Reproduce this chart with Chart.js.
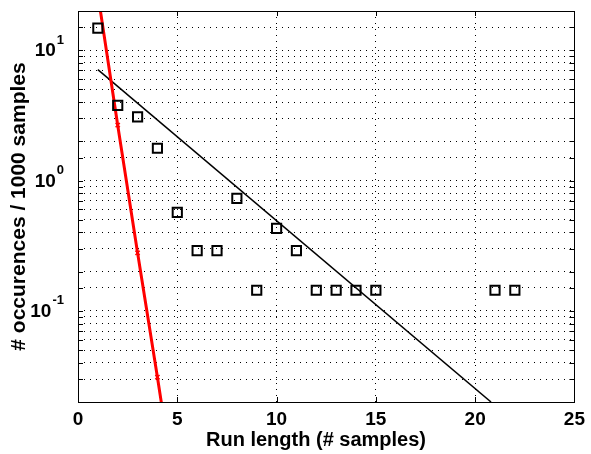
<!DOCTYPE html>
<html>
<head>
<meta charset="utf-8">
<script src="https://cdn.jsdelivr.net/npm/chart.js@4.4.1/dist/chart.umd.min.js"></script>
<style>
  html, body { margin: 0; padding: 0; background: #fff; }
  #wrap { width: 591px; height: 454px; }
</style>
</head>
<body>
<div id="wrap"><canvas id="chart" width="591" height="454"></canvas></div>
<script>
// measured run lengths and occurrences per 1000 samples
const runLengths = [1, 2, 3, 4, 5, 6, 7, 8, 9, 10, 11, 12, 13, 14, 15, 21, 22];
const occurrences = [14.8, 3.78, 3.08, 1.77, 0.57, 0.29, 0.29, 0.73, 0.144, 0.43, 0.29, 0.144, 0.144, 0.144, 0.144, 0.144, 0.144];

// fitted exponential (black) - endpoints
const fitX = [1, 20.8];
const fitY = [7.1, 0.02];

// steep model (red)
const modelX = [1, 2, 3, 4, 5];
const modelY = [27, 2.66, 0.279, 0.031, 0.0032];

const xTicks = [0, 5, 10, 15, 20, 25];
const yDecades = [0.1, 1, 10];
const yExp = ['-1', '0', '1'];
const xTitle = 'Run length (# samples)';
const yTitle = '# occurences / 1000 samples';

const toPts = (xs, ys) => xs.map((x, i) => ({ x: x, y: ys[i] }));

const FONT = '"Liberation Sans", Arial, sans-serif';

// MATLAB-ish frame, inward ticks, 10^n labels and x title
const framePlugin = {
    id: 'frame',
    afterDraw(chart) {
        const ctx = chart.ctx;
        const a = chart.chartArea;
        const xs = chart.scales.x;
        const ys = chart.scales.y;
        ctx.save();
        ctx.strokeStyle = '#000';
        ctx.lineWidth = 1;
        ctx.beginPath();
        xTicks.forEach(v => {
            const px = Math.round(xs.getPixelForValue(v)) + 0.5;
            ctx.moveTo(px, a.bottom); ctx.lineTo(px, a.bottom - 5);
            ctx.moveTo(px, a.top); ctx.lineTo(px, a.top + 5);
        });
        ys.ticks.forEach(t => {
            const py = Math.round(ys.getPixelForValue(t.value)) + 0.5;
            ctx.moveTo(a.left, py); ctx.lineTo(a.left + 5, py);
            ctx.moveTo(a.right, py); ctx.lineTo(a.right - 5, py);
        });
        ctx.stroke();
        ctx.strokeRect(Math.round(a.left) + 0.5, Math.round(a.top) + 0.5,
            Math.round(a.right - a.left), Math.round(a.bottom - a.top));

        // y labels as 10 with superscript
        ctx.fillStyle = '#000';
        ctx.textBaseline = 'middle';
        yDecades.forEach((v, i) => {
            const py = ys.getPixelForValue(v);
            ctx.font = 'bold 13px ' + FONT;
            const ew = ctx.measureText(yExp[i]).width;
            ctx.textAlign = 'right';
            ctx.fillText(yExp[i], a.left - 14, py - 10);
            ctx.font = 'bold 19px ' + FONT;
            ctx.fillText('10', a.left - 15 - ew, py + 1);
        });

        // x axis title
        ctx.font = 'bold 20px ' + FONT;
        ctx.textAlign = 'center';
        ctx.fillText(xTitle, 316, 440);
        ctx.restore();
    }
};

new Chart(document.getElementById('chart'), {
    type: 'scatter',
    data: {
        datasets: [
            {
                label: 'model',
                data: toPts(modelX, modelY),
                showLine: true,
                borderColor: '#ff0000',
                backgroundColor: '#ff0000',
                borderWidth: 3,
                pointStyle: 'crossRot',
                pointRadius: 3,
                pointBorderWidth: 1.5,
                order: 1
            },
            {
                label: 'fit',
                data: toPts(fitX, fitY),
                showLine: true,
                borderColor: '#000',
                borderWidth: 1.5,
                pointRadius: 0,
                order: 2
            },
            {
                label: 'data',
                data: toPts(runLengths, occurrences),
                showLine: false,
                pointStyle: 'rect',
                pointRadius: 6.5,
                pointBorderWidth: 2,
                borderColor: '#000',
                backgroundColor: 'rgba(0,0,0,0)',
                order: 0
            }
        ]
    },
    plugins: [framePlugin],
    options: {
        responsive: false,
        animation: false,
        devicePixelRatio: 1,
        layout: { padding: { top: 11, right: 14, left: 0, bottom: 0 } },
        plugins: {
            legend: { display: false },
            tooltip: { enabled: false }
        },
        scales: {
            x: {
                type: 'linear',
                min: 0,
                max: 25,
                afterFit: (s) => { s.height = 52; },
                ticks: {
                    stepSize: 5,
                    color: '#000',
                    padding: 6,
                    font: { family: FONT, size: 19, weight: 'bold' }
                },
                grid: {
                    color: '#000',
                    lineWidth: 1,
                    drawTicks: false
                },
                border: { display: false, dash: [1, 5] }
            },
            y: {
                type: 'logarithmic',
                min: 0.02,
                max: 20,
                afterFit: (s) => { s.width = 78; },
                ticks: { display: false },
                grid: {
                    color: '#000',
                    lineWidth: 1,
                    drawTicks: false
                },
                border: { display: false, dash: [1, 5] },
                title: {
                    display: true,
                    text: yTitle,
                    color: '#000',
                    font: { family: FONT, size: 21, weight: 'bold' },
                    padding: { top: 7, bottom: 0 }
                }
            }
        }
    }
});
</script>
</body>
</html>
